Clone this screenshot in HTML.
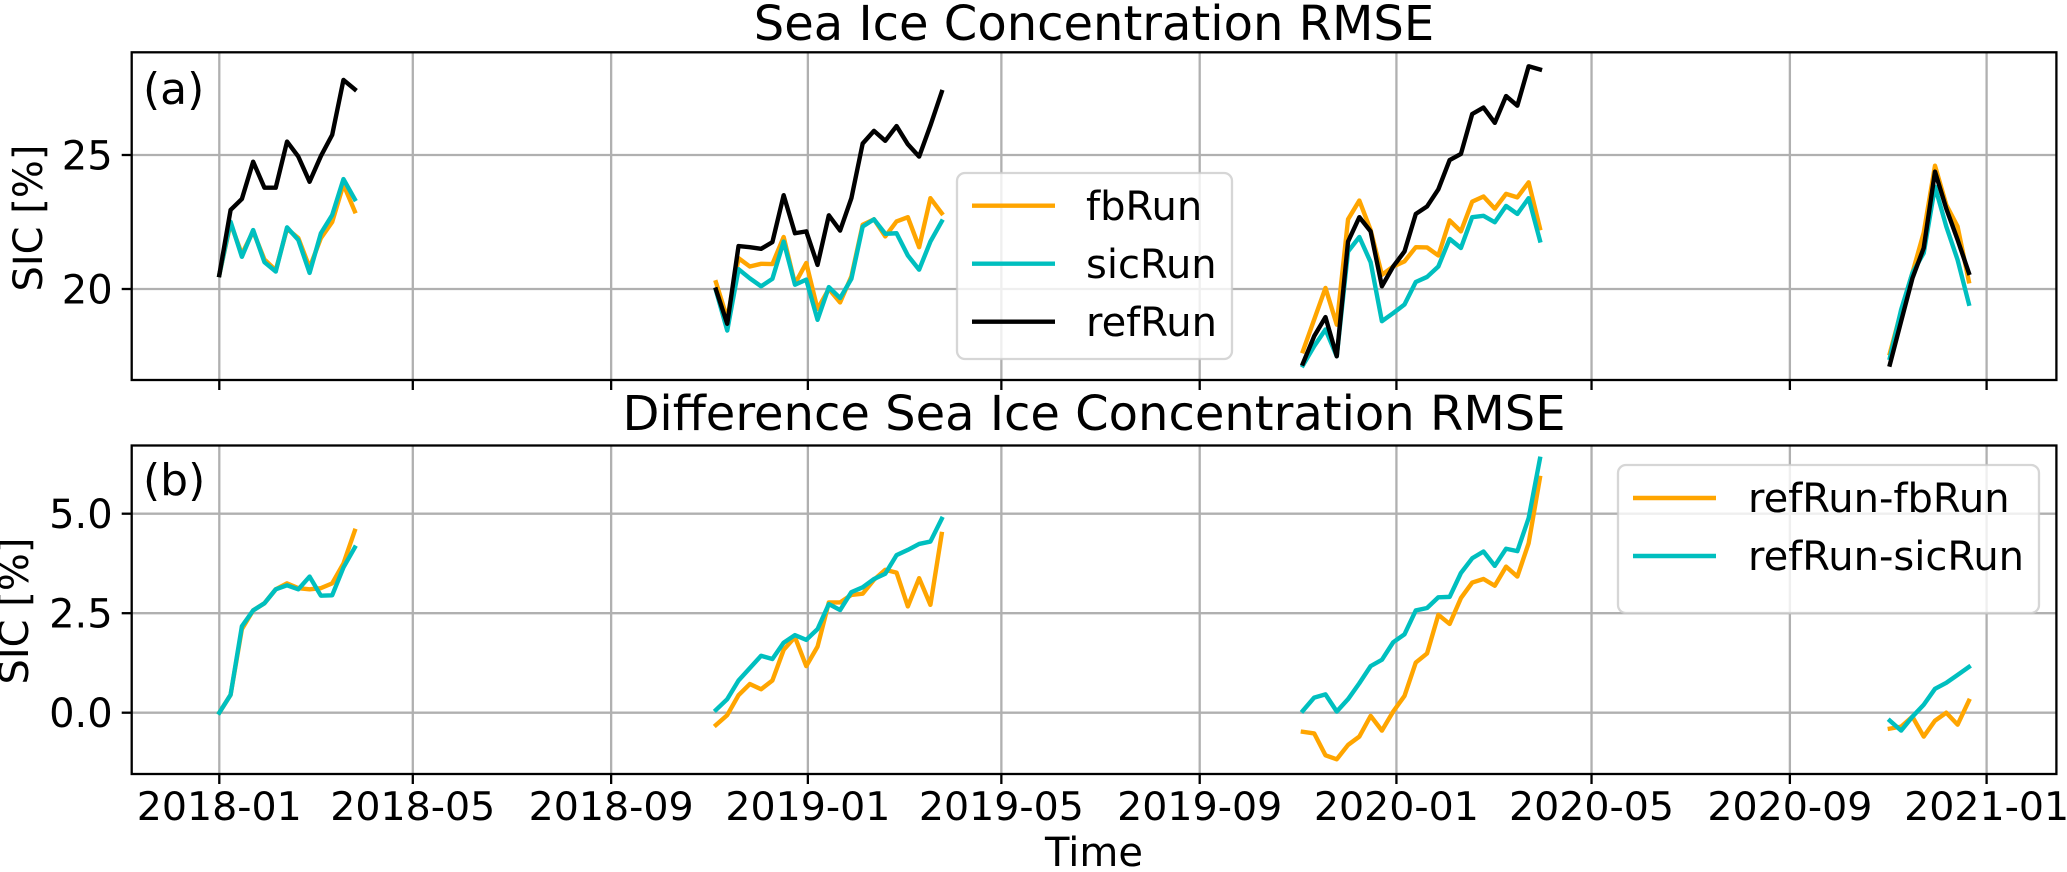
<!DOCTYPE html>
<html lang="en">
<head>
<meta charset="utf-8">
<title>Sea Ice Concentration RMSE</title>
<style>
html,body{margin:0;padding:0;background:#fff;}
svg{display:block;}
text{font-family:"DejaVu Sans","Liberation Sans",sans-serif;fill:#000;}
</style>
</head>
<body>
<svg id="chart" xmlns="http://www.w3.org/2000/svg" width="2067" height="872" viewBox="0 0 2067 872">
  <rect x="0" y="0" width="2067" height="872" fill="#fff"/>
  <g id="panelA"></g>
  <g id="panelB"></g>

  <text x="1094" y="40" font-size="48" text-anchor="middle">Sea Ice Concentration RMSE</text>
  <text x="143" y="104" font-size="44">(a)</text>
  <text transform="translate(42,218) rotate(-90)" font-size="40" text-anchor="middle">SIC [%]</text>

  <text x="1094" y="430" font-size="48" text-anchor="middle">Difference Sea Ice Concentration RMSE</text>
  <text x="143" y="495" font-size="44">(b)</text>
  <text transform="translate(28,611) rotate(-90)" font-size="40" text-anchor="middle">SIC [%]</text>

  <text x="1094" y="866" font-size="40" text-anchor="middle">Time</text>

  <g>
    <rect x="957" y="173" width="275" height="186" rx="8" ry="8" fill="#fff" fill-opacity="0.8" stroke="#ccc" stroke-opacity="0.8" stroke-width="2.3"/>
    <line x1="972" y1="205.7" x2="1055" y2="205.7" stroke="#ffa500" stroke-width="4.4"/>
    <text x="1086" y="220" font-size="40">fbRun</text>
    <line x1="972" y1="263.7" x2="1055" y2="263.7" stroke="#00bfbf" stroke-width="4.4"/>
    <text x="1086" y="278" font-size="40">sicRun</text>
    <line x1="972" y1="321.7" x2="1055" y2="321.7" stroke="#000" stroke-width="4.4"/>
    <text x="1086" y="336" font-size="40">refRun</text>
  </g>

  <g>
    <rect x="1618" y="465" width="421" height="148" rx="8" ry="8" fill="#fff" fill-opacity="0.8" stroke="#ccc" stroke-opacity="0.8" stroke-width="2.3"/>
    <line x1="1633" y1="498" x2="1716" y2="498" stroke="#ffa500" stroke-width="4.4"/>
    <text x="1748" y="512" font-size="40">refRun-fbRun</text>
    <line x1="1633" y1="556" x2="1716" y2="556" stroke="#00bfbf" stroke-width="4.4"/>
    <text x="1748" y="570" font-size="40">refRun-sicRun</text>
  </g>
</svg>

<script>
const weekDates = [
  '2018-01-01','2018-01-08','2018-01-15','2018-01-22','2018-01-29','2018-02-05','2018-02-12','2018-02-19','2018-02-26','2018-03-05','2018-03-12','2018-03-19','2018-03-26',
  '2018-11-05','2018-11-12','2018-11-19','2018-11-26','2018-12-03','2018-12-10','2018-12-17','2018-12-24','2018-12-31','2019-01-07','2019-01-14','2019-01-21','2019-01-28','2019-02-04','2019-02-11','2019-02-18','2019-02-25','2019-03-04','2019-03-11','2019-03-18','2019-03-25',
  '2019-11-04','2019-11-11','2019-11-18','2019-11-25','2019-12-02','2019-12-09','2019-12-16','2019-12-23','2019-12-30','2020-01-06','2020-01-13','2020-01-20','2020-01-27','2020-02-03','2020-02-10','2020-02-17','2020-02-24','2020-03-02','2020-03-09','2020-03-16','2020-03-23','2020-03-30',
  '2020-11-02','2020-11-09','2020-11-16','2020-11-23','2020-11-30','2020-12-07','2020-12-14','2020-12-21'
];

const fbRun = [
  20.52,22.45,21.3,22.15,21.1,20.7,22.25,21.9,20.8,21.9,22.5,23.9,22.9,
  20.25,18.9,21.15,20.84,20.94,20.93,21.94,20.2,20.97,19.25,20.0,19.5,20.47,22.4,22.6,21.96,22.52,22.68,21.56,23.39,22.83,
  17.68,18.86,20.04,18.67,22.6,23.3,22.2,20.53,20.84,21.03,21.56,21.55,21.25,22.56,22.15,23.26,23.45,23.0,23.55,23.42,23.98,22.27,
  17.6,19.17,20.6,22.1,24.6,23.14,22.33,20.29
];

const sicRun = [
  20.52,22.51,21.2,22.2,21.0,20.65,22.3,21.83,20.6,22.08,22.76,24.1,23.35,
  19.95,18.45,20.74,20.4,20.1,20.38,21.77,20.16,20.35,18.85,20.07,19.66,20.38,22.33,22.6,22.06,22.08,21.25,20.72,21.77,22.52,
  17.15,17.87,18.49,17.49,21.4,21.94,21.0,18.8,19.1,19.42,20.26,20.45,20.84,21.87,21.53,22.68,22.73,22.49,23.1,22.8,23.39,21.81,
  17.43,19.23,20.6,21.34,23.82,22.33,21.09,19.45
];

const refRun = [
  20.52,22.95,23.36,24.75,23.78,23.78,25.5,24.94,24.0,24.96,25.75,27.8,27.45,
  19.98,18.7,21.6,21.56,21.5,21.75,23.5,22.08,22.15,20.9,22.75,22.18,23.39,25.43,25.9,25.53,26.08,25.4,24.94,26.1,27.35,
  17.22,18.24,18.95,17.49,21.77,22.68,22.15,20.1,20.84,21.4,22.8,23.08,23.72,24.81,25.04,26.53,26.77,26.2,27.2,26.84,28.31,28.19,
  17.18,18.8,20.4,21.53,24.38,23.0,21.84,20.6
];

const refMinusFb = [
  0,0.45,2.1,2.57,2.75,3.1,3.25,3.13,3.1,3.13,3.25,3.75,4.57,
  -0.31,-0.06,0.44,0.72,0.59,0.81,1.58,1.9,1.17,1.66,2.77,2.77,2.96,2.99,3.34,3.59,3.52,2.67,3.38,2.71,4.49,
  -0.48,-0.52,-1.07,-1.17,-0.81,-0.6,-0.08,-0.45,0.03,0.42,1.26,1.49,2.46,2.23,2.88,3.27,3.36,3.19,3.67,3.42,4.26,5.9,
  -0.4,-0.35,-0.1,-0.6,-0.2,0,-0.3,0.3
];

const refMinusSic = [
  0,0.45,2.17,2.57,2.75,3.1,3.2,3.1,3.42,2.94,2.95,3.65,4.15,
  0.07,0.34,0.81,1.12,1.43,1.35,1.76,1.95,1.83,2.1,2.73,2.58,3.03,3.15,3.36,3.49,3.96,4.09,4.24,4.3,4.87,
  0.05,0.38,0.46,0.03,0.34,0.74,1.17,1.33,1.77,1.97,2.57,2.63,2.9,2.91,3.51,3.88,4.05,3.69,4.12,4.06,4.89,6.38,
  -0.2,-0.45,-0.1,0.2,0.6,0.75,0.95,1.15
];

const xTickLabels = ['2018-01','2018-05','2018-09','2019-01','2019-05','2019-09','2020-01','2020-05','2020-09','2021-01'];
const yTicksA = [20,25];
const yTickLabelsA = ['20','25'];
const yTicksB = [0,2.5,5];
const yTickLabelsB = ['0.0','2.5','5.0'];

const NS = 'http://www.w3.org/2000/svg';
const DAY_MS = 86400000;
const EPOCH = Date.UTC(2018,0,1);
const toDay = s => { const p = s.split('-').map(Number); return (Date.UTC(p[0],p[1]-1,p[2]||1)-EPOCH)/DAY_MS; };

const axisLeft = 131.7, axisRight = 2056.4;
const xScale = day => 219.3 + day * 1.6125;
const yScaleA = v => 289 - (v - 20) * 26.8;
const yScaleB = v => 712.7 - v * 39.8;

function make(tag, parent, attrs){
  const el = document.createElementNS(NS, tag);
  for (const k in attrs) el.setAttribute(k, attrs[k]);
  parent.appendChild(el);
  return el;
}

function seriesPath(values, yScale){
  let d = '';
  let prevDay = null;
  for (let i = 0; i < values.length; i++){
    const day = toDay(weekDates[i]);
    const cmd = (prevDay === null || day - prevDay > 14) ? 'M' : 'L';
    d += cmd + xScale(day).toFixed(2) + ' ' + yScale(values[i]).toFixed(2) + ' ';
    prevDay = day;
  }
  return d.trim();
}

function drawPanel(group, prefix, top, bottom, yScale, yTicks, yLabels, series, showXLabels){
  // grid
  xTickLabels.forEach(t => {
    const x = xScale(toDay(t));
    const gl = make('line', group, {x1:x, x2:x, y1:top, y2:bottom, stroke:'#b0b0b0', 'stroke-width':2.3});
    
    
  });
  yTicks.forEach(v => {
    const y = yScale(v);
    const gl = make('line', group, {x1:axisLeft, x2:axisRight, y1:y, y2:y, stroke:'#b0b0b0', 'stroke-width':2.3});
    
    
  });

  // series
  series.forEach(s => {
    const p = make('path', group, {d:seriesPath(s.values, yScale), fill:'none', stroke:s.color, 'stroke-width':4.4, 'stroke-linejoin':'round', 'stroke-linecap':'square'});
    
    
  });

  // ticks and tick labels
  xTickLabels.forEach(t => {
    const x = xScale(toDay(t));
    const tk = make('line', group, {x1:x, x2:x, y1:bottom, y2:bottom+10, stroke:'#000', 'stroke-width':2.3});
    
    
    if (showXLabels){
      const lb = make('text', group, {x:x, y:820, 'font-size':39.5, 'text-anchor':'middle'});
      
      
      lb.textContent = t;
    }
  });
  yTicks.forEach((v, i) => {
    const y = yScale(v);
    const tk = make('line', group, {x1:axisLeft-10, x2:axisLeft, y1:y, y2:y, stroke:'#000', 'stroke-width':2.3});
    
    
    const lb = make('text', group, {x:axisLeft-19, y:y+14.5, 'font-size':40, 'text-anchor':'end'});
    
    
    lb.textContent = yLabels[i];
  });

  // spines
  const frame = make('rect', group, {x:axisLeft, y:top, width:axisRight-axisLeft, height:bottom-top, fill:'none', stroke:'#000', 'stroke-width':2.3});
  
  
}

drawPanel(document.getElementById('panelA'), 'panel-a', 52.3, 380, yScaleA, yTicksA, yTickLabelsA, [
  {name:'fbrun', color:'#ffa500', values:fbRun},
  {name:'sicrun', color:'#00bfbf', values:sicRun},
  {name:'refrun', color:'#000', values:refRun}
], false);

drawPanel(document.getElementById('panelB'), 'panel-b', 445.5, 774, yScaleB, yTicksB, yTickLabelsB, [
  {name:'refrun-fbrun', color:'#ffa500', values:refMinusFb},
  {name:'refrun-sicrun', color:'#00bfbf', values:refMinusSic}
], true);
</script>
</body>
</html>
